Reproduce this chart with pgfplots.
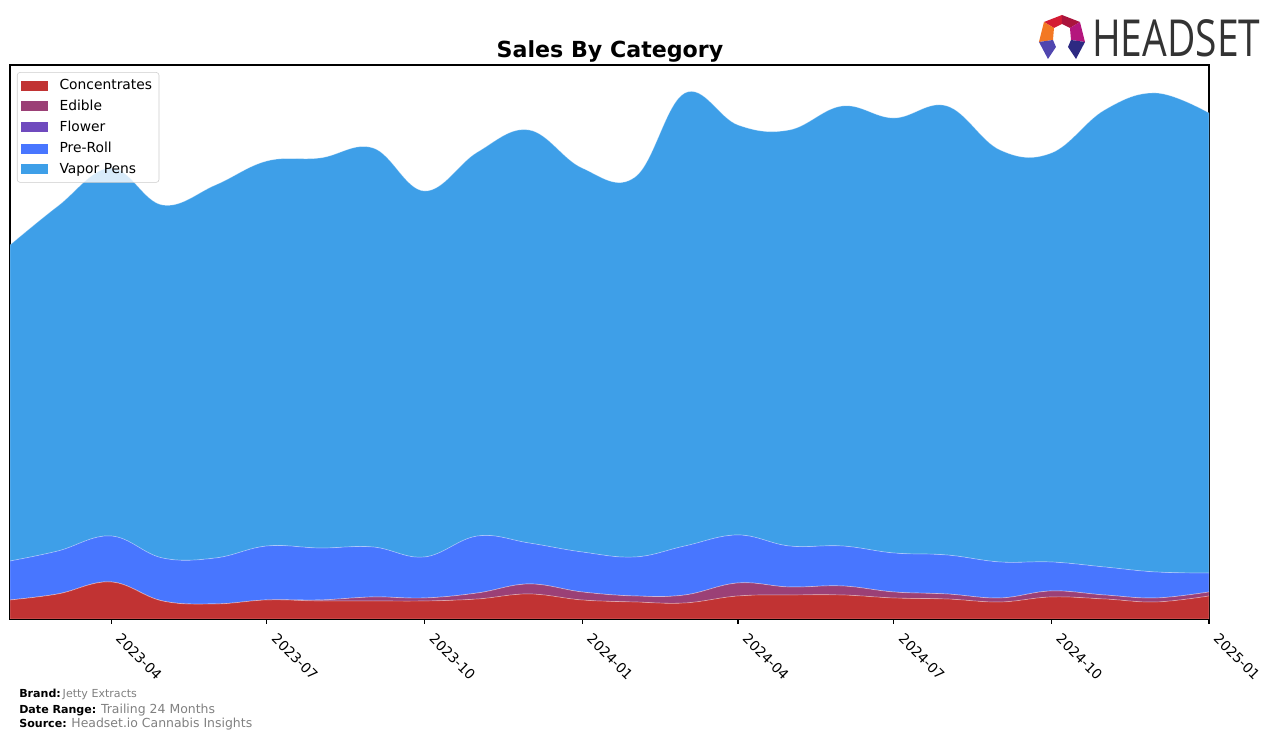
\documentclass[border=0pt]{standalone}
\usepackage{fontspec}
\setmainfont{DejaVu Sans}
\newfontfamily\logofont{Open Sans}
\usepackage{graphicx}
\usepackage{pgfplots}
\pgfplotsset{compat=1.18}
\usepackage{pgfplotstable}

\definecolor{conc}{RGB}{193,51,51}
\definecolor{edib}{RGB}{155,64,118}
\definecolor{flow}{RGB}{111,74,190}
\definecolor{prer}{RGB}{72,118,255}
\definecolor{vape}{RGB}{62,159,232}
\definecolor{footgray}{RGB}{128,128,128}
\definecolor{lgred}{RGB}{212,28,52}
\definecolor{lgcrim}{RGB}{170,20,60}
\definecolor{lgorange}{RGB}{243,120,35}
\definecolor{lgmag}{RGB}{180,22,125}
\definecolor{lgblue}{RGB}{80,70,175}
\definecolor{lgdblue}{RGB}{45,42,130}

% x = days since 2023-02-01
\pgfplotstableread{
d conc edib flow prer vape
0 19 0 0 39 316
28 25 0 0 43 345
59 37 0 0 46 368
89 18 0 0 43 353
120 15 0 0 46 373
150 19 0 0 54 385
181 18 1 0 52 390
212 18 4 0 50 399
242 18 3 0 41 366
273 20 6 0 57 384
303 25 10 0 41 413
334 19 8 0 40 384
365 17 6 0 39 380
394 16 8 0 49 453
425 23 13 0 48 410
455 24 8 0 41 416
486 24 9 0 40 440
516 21 6 0 39 435
547 20 5 0 39 449
578 17 4 0 36 412
608 22 6 0 29 409
639 20 4 0 28 457
669 17 4 0 26 479
700 23 4 0 19 460
}\datatable

\begin{document}
\begin{tikzpicture}
\useasboundingbox (0,0) rectangle (918.72bp,533.52bp);
\begin{axis}[
  at={(7.2bp,87.84bp)}, anchor=south west,
  scale only axis, width=863.28bp, height=398.88bp,
  xmin=0, xmax=700, ymin=0, ymax=554,
  stack plots=y,
  axis line style={line width=0.8pt},
  ytick=\empty,
  xtick={59,150,242,334,425,516,608,700},
  xticklabels={2023-04,2023-07,2023-10,2024-01,2024-04,2024-07,2024-10,2025-01},
  xtick pos=bottom,
  tick align=outside, major tick length=3.5pt,
  tick style={black, line width=0.8pt},
  xticklabel style={rotate=-45, anchor=north west, font=\fontsize{10}{12}\selectfont, inner sep=1pt, xshift=9pt, yshift=2.5pt},
  legend cell align=left,
  legend style={at={(0.0058,0.987)}, anchor=north west, draw=black!20, rounded corners=2pt,
    fill=white, fill opacity=0.8, text opacity=1, font=\fontsize{10}{12}\selectfont,
    row sep=2.1pt, inner xsep=3pt, inner ysep=3pt},
  legend image code/.code={\path[#1,draw=none,fill opacity=1,sharp corners] (0bp,-3.6bp) rectangle (19.4bp,3.6bp);
    \path[draw=none,fill=none] (0bp,0bp) -- (25.5bp,0bp);},
  every axis plot/.append style={smooth, tension=0.65, draw=white, draw opacity=0.3, line width=0.5pt},
]
\addplot[fill=conc] table[x=d,y=conc]{\datatable} \closedcycle;
\addlegendentry{Concentrates}
\addplot[fill=edib] table[x=d,y=edib]{\datatable} \closedcycle;
\addlegendentry{Edible}
\addplot[fill=flow] table[x=d,y=flow]{\datatable} \closedcycle;
\addlegendentry{Flower}
\addplot[fill=prer] table[x=d,y=prer]{\datatable} \closedcycle;
\addlegendentry{Pre-Roll}
\addplot[fill=vape] table[x=d,y=vape]{\datatable} \closedcycle;
\addlegendentry{Vapor Pens}
\end{axis}

% title
\node[font=\fontsize{16}{19}\selectfont\bfseries] at (439.2bp,496.3bp) {Sales By Category};

% footer
\node[anchor=base west, inner sep=0pt, font=\fontsize{8}{9}\selectfont] at (13.7bp,31bp)
  {\textbf{Brand:}\,\textcolor{footgray}{Jetty Extracts}};
\node[anchor=base west, inner sep=0pt, font=\fontsize{8}{9}\selectfont] at (13.7bp,19.6bp)
  {\textbf{Date Range:} \textcolor{footgray}{\fontsize{9}{10}\selectfont Trailing 24 Months}};
\node[anchor=base west, inner sep=0pt, font=\fontsize{8}{9}\selectfont] at (13.7bp,9.8bp)
  {\textbf{Source:} \textcolor{footgray}{\fontsize{9}{10}\selectfont Headset.io Cannabis Insights}};

% logo text
\node[anchor=south west, inner sep=0pt, text=black!80] at (786.2bp,492.5bp)
  {\resizebox{121bp}{26.6bp}{\logofont HEADSET}};

% logo icon (pixel coordinates)
\begin{scope}[x=0.72bp, y=-0.72bp, shift={(0,533.52bp)}]
  \fill[lgred] (1044,22) -- (1062,15) -- (1062,24) -- (1054,28) -- cycle;
  \fill[lgcrim] (1062,15) -- (1080,22) -- (1070,28) -- (1062,24) -- cycle;
  \fill[lgorange] (1044,22) -- (1054,28) -- (1053,40) -- (1039,42) -- cycle;
  \fill[lgmag] (1080,22) -- (1070,28) -- (1071,40) -- (1085,42) -- cycle;
  \fill[lgblue] (1039,42) -- (1053,40) -- (1056,47) -- (1048,59) -- cycle;
  \fill[lgdblue] (1085,42) -- (1071,40) -- (1068,47) -- (1076,59) -- cycle;
\end{scope}
\end{tikzpicture}
\end{document}
